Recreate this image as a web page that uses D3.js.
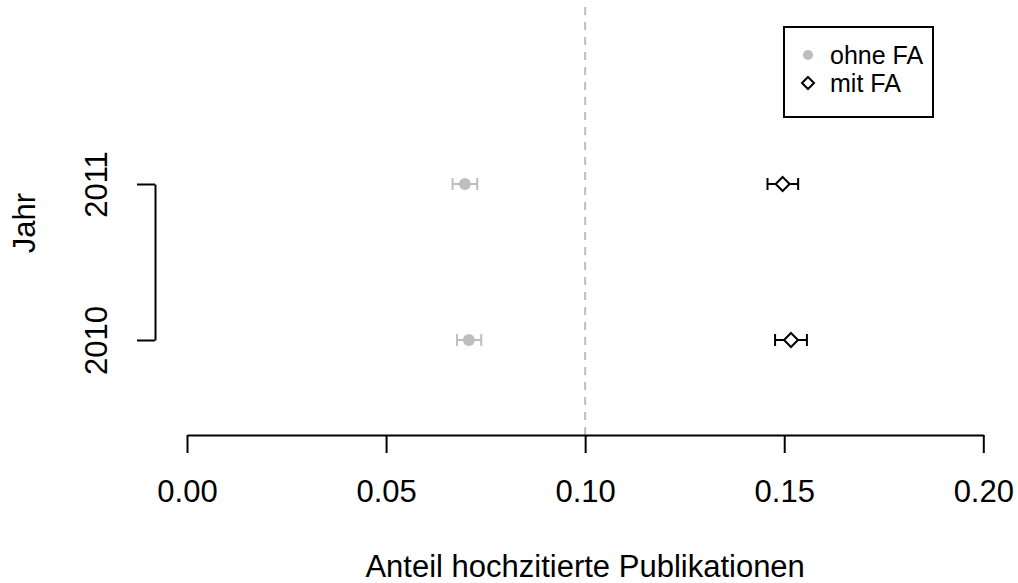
<!DOCTYPE html>
<html>
<head>
<meta charset="utf-8">
<script src="https://cdn.jsdelivr.net/npm/d3@7"></script>
<style>
  body { margin: 0; background: #fff; }
  text { font-family: "Liberation Sans", Arial, sans-serif; fill: #000; }
</style>
</head>
<body>
<div id="chart"></div>
<script>
// chart data
const years = [2010, 2011];
const ohneMean = [0.0708, 0.0698];
const ohneLo = [0.0678, 0.0667];
const ohneHi = [0.0739, 0.0729];
const mitMean = [0.1517, 0.1496];
const mitLo = [0.1477, 0.1458];
const mitHi = [0.1557, 0.1535];
const xTicks = [0, 0.05, 0.1, 0.15, 0.2];
const legendLabels = ["ohne FA", "mit FA"];
const refLine = 0.1;

const W = 1018, H = 583;
const GREY = "#bebebe";
const FONT = "'Liberation Sans', Arial, sans-serif";

const svg = d3.select("#chart").append("svg")
  .attr("width", W).attr("height", H);
svg.append("rect").attr("width", W).attr("height", H).attr("fill", "#fff");

const x = d3.scaleLinear().domain([0, 0.2]).range([187, 983.3]);
const y = d3.scaleLinear().domain([2010, 2011]).range([340, 184]);
const AXIS_Y = 435;
const AXIS_X = 155;

// dashed reference line
svg.append("line")
  .attr("x1", x(refLine)).attr("x2", x(refLine))
  .attr("y1", AXIS_Y).attr("y2", 0)
  .attr("stroke", GREY).attr("stroke-width", 2)
  .attr("stroke-dasharray", "8,7");

// x axis
const xAxis = svg.append("g")
  .attr("transform", `translate(0,${AXIS_Y})`)
  .call(d3.axisBottom(x).tickValues(xTicks).tickFormat(d3.format(".2f"))
    .tickSize(18).tickSizeOuter(0).tickPadding(0));
xAxis.select(".domain").attr("stroke", "#000").attr("stroke-width", 2);
xAxis.selectAll(".tick line").attr("stroke", "#000").attr("stroke-width", 2);
xAxis.selectAll(".tick text")
  .attr("y", 67).attr("dy", null)
  .style("font-family", FONT)
  .style("font-size", "31px").attr("fill", "#000");

// y axis
const yAxis = svg.append("g")
  .attr("transform", `translate(${AXIS_X},0)`)
  .call(d3.axisLeft(y).tickValues(years).tickFormat(d3.format("d"))
    .tickSize(18).tickSizeOuter(0));
yAxis.select(".domain").attr("stroke", "#000").attr("stroke-width", 2);
yAxis.selectAll(".tick line").attr("stroke", "#000").attr("stroke-width", 2);
yAxis.selectAll(".tick text")
  .attr("x", null).attr("dy", null)
  .attr("transform", "translate(-48,0) rotate(-90)")
  .attr("text-anchor", "middle")
  .style("font-family", FONT)
  .style("font-size", "31px").attr("fill", "#000");

// axis titles
svg.append("text")
  .attr("x", (x(0) + x(0.2)) / 2).attr("y", 577)
  .attr("text-anchor", "middle").style("font-size", "31px")
  .text("Anteil hochzitierte Publikationen");
svg.append("text")
  .attr("transform", "translate(35,223) rotate(-90)")
  .attr("text-anchor", "middle").style("font-size", "31px")
  .text("Jahr");

// error bars + points
const diamond = (s) => `M0,${-s}L${s},0L0,${s}L${-s},0Z`;
const drawSeries = (mean, lo, hi, color, kind) => {
  const g = svg.append("g");
  years.forEach((yr, i) => {
    const cy = y(yr);
    g.append("line").attr("x1", x(lo[i])).attr("x2", x(hi[i]))
      .attr("y1", cy).attr("y2", cy).attr("stroke", color).attr("stroke-width", 2);
    [lo[i], hi[i]].forEach((v) => {
      g.append("line").attr("x1", x(v)).attr("x2", x(v))
        .attr("y1", cy - 6).attr("y2", cy + 6)
        .attr("stroke", color).attr("stroke-width", 2);
    });
    if (kind === "circle") {
      g.append("circle").attr("cx", x(mean[i])).attr("cy", cy).attr("r", 6)
        .attr("fill", color);
    } else {
      g.append("path").attr("d", diamond(7))
        .attr("transform", `translate(${x(mean[i])},${cy})`)
        .attr("fill", "#fff").attr("stroke", color).attr("stroke-width", 2);
    }
  });
};
drawSeries(ohneMean, ohneLo, ohneHi, GREY, "circle");
drawSeries(mitMean, mitLo, mitHi, "#000", "diamond");

// legend
const legend = svg.append("g").attr("transform", "translate(784,27)");
legend.append("rect").attr("width", 149).attr("height", 90)
  .attr("fill", "#fff").attr("stroke", "#000").attr("stroke-width", 2);
legendLabels.forEach((lab, i) => {
  const ly = 28 + i * 28;
  if (i === 0) {
    legend.append("circle").attr("cx", 24).attr("cy", ly).attr("r", 5).attr("fill", GREY);
  } else {
    legend.append("path").attr("d", diamond(6))
      .attr("transform", `translate(24,${ly})`)
      .attr("fill", "#fff").attr("stroke", "#000").attr("stroke-width", 2);
  }
  legend.append("text").attr("x", 46).attr("y", ly + 9)
    .style("font-size", "25px").text(lab);
});
</script>
</body>
</html>
